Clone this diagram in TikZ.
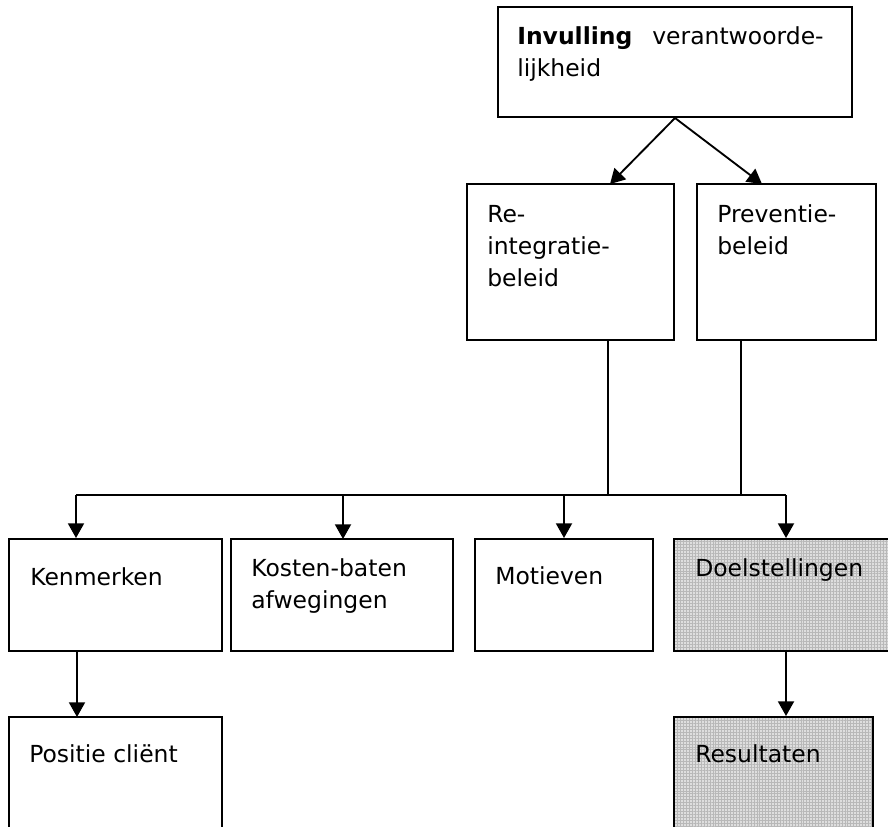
\documentclass[tikz,border=0pt]{standalone}
\usepackage{fontspec}
\setmainfont{DejaVu Sans}
\usetikzlibrary{arrows.meta,patterns.meta}
\begin{document}
\begin{tikzpicture}[x=0.75pt,y=-0.75pt,
  boxnode/.style={draw=black,line width=1.5pt,rectangle,inner sep=0pt,fill=white},
  shaded/.style={boxnode,fill=black!13,
    postaction={pattern={Lines[angle=0,distance=2.2pt,line width=0.45pt]},pattern color=black!28},
    postaction={pattern={Lines[angle=90,distance=2.2pt,line width=0.45pt]},pattern color=black!28},
    postaction={draw=black,line width=1.5pt}},
  label/.style={anchor=base west,inner sep=0pt,font=\fontsize{17.6pt}{24pt}\selectfont,align=left},
  conn/.style={line width=1.4pt},
  arr/.style={conn,-{Triangle[length=11pt,width=12pt]}}]
\useasboundingbox (0,0) rectangle (888,826);

% boxes
\node[boxnode,minimum width=354*0.75pt,minimum height=110*0.75pt] (top) at (675,62) {};
\node[boxnode,minimum width=207*0.75pt,minimum height=156*0.75pt] (re) at (570.5,262) {};
\node[boxnode,minimum width=179*0.75pt,minimum height=156*0.75pt] (prev) at (786.5,262) {};
\node[boxnode,minimum width=213*0.75pt,minimum height=112*0.75pt] (ken) at (115.5,595) {};
\node[boxnode,minimum width=222*0.75pt,minimum height=112*0.75pt] (kos) at (342,595) {};
\node[boxnode,minimum width=178*0.75pt,minimum height=112*0.75pt] (mot) at (564,595) {};
\node[shaded,minimum width=220*0.75pt,minimum height=112*0.75pt] (doel) at (784,595) {};
\node[boxnode,minimum width=213*0.75pt,minimum height=140*0.75pt] (pos) at (115.5,787) {};
\node[shaded,minimum width=199*0.75pt,minimum height=140*0.75pt] (res) at (773.5,787) {};

% texts (base = baseline of last line)
\node[label] (ttop) at (517,76) {\textbf{Invulling}\hspace{0.85em}verantwoorde-\\lijkheid};
\node[label] (tre) at (487,286) {Re-\\integratie-\\beleid};
\node[label] (tprev) at (717,254) {Preventie-\\beleid};
\node[label] (tken) at (30,585) {Kenmerken};
\node[label] (tkos) at (251,608) {Kosten-baten\\afwegingen};
\node[label] (tmot) at (495,584) {Motieven};
\node[label] (tdoel) at (695,576) {Doelstellingen};
\node[label] (tpos) at (29,762) {Positie cliënt};
\node[label] (tres) at (695,762) {Resultaten};

% coordinates
\coordinate (reIn) at (610,184);
\coordinate (prevIn) at (762,184);
\coordinate (reOut) at (608,340);
\coordinate (prevOut) at (741,340);
\coordinate (jRe) at (608,495);
\coordinate (jPrev) at (741,495);
\coordinate (bL) at (76,495);
\coordinate (bR) at (786,495);

% connectors
\draw[arr] (top.south) -- (reIn);
\draw[arr] (top.south) -- (prevIn);
\draw[conn] (reOut) -- (jRe);
\draw[conn] (prevOut) -- (jPrev);
\draw[conn] (bL) -- (bR);
\draw[arr] (bL) -- (bL |- ken.north);
\draw[arr] (343,495) -- (343,539);
\draw[arr] (564,495) -- (mot.north);
\draw[arr] (bR) -- (bR |- doel.north);
\draw[arr] (bR |- doel.south) -- (bR |- res.north);
\draw[arr] (77,651) -- (77,717);
\end{tikzpicture}
\end{document}
